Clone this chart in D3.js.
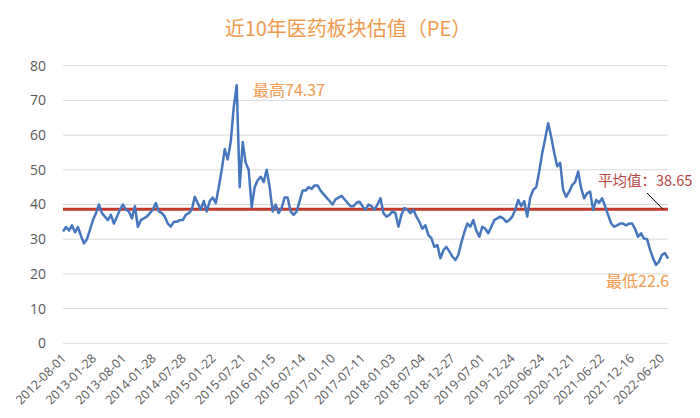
<!DOCTYPE html>
<html>
<head>
<meta charset="utf-8">
<script src="https://cdn.jsdelivr.net/npm/d3@7"></script>
<style>
  body { margin: 0; background: #fff; }
  #chart { width: 700px; height: 418px; }
</style>
</head>
<body>
<div id="chart"></div>
<script>
// tick labels on the x axis (one every 120 trading days)
var tickLabels = ["2012-08-01", "2013-01-28", "2013-08-01", "2014-01-28", "2014-07-28",
    "2015-01-22", "2015-07-21", "2016-01-15", "2016-07-14", "2017-01-10", "2017-07-11",
    "2018-01-03", "2018-07-04", "2018-12-27", "2019-07-01", "2019-12-24", "2020-06-24",
    "2020-12-21", "2021-06-22", "2021-12-16", "2022-06-20"];
var tickStep = 120;
var dayCount = 2430;

var peValues = [
    32.2, 33.5, 32.5, 34, 32, 33.5, 31, 28.8, 30, 32.7,
    35.5, 37.5, 40, 37.5, 36.5, 35.5, 37, 34.5, 36.5, 38.5,
    40, 38.5, 38, 36, 39.5, 33.6, 35.5, 36, 36.5, 37.5,
    38.5, 40.4, 38, 37.5, 36.5, 34.5, 33.6, 35, 35, 35.5,
    35.5, 37, 37.5, 38.5, 42.2, 40.4, 38.5, 41, 38, 41,
    42, 40.4, 45, 50, 56, 53, 58, 68, 74.37, 45,
    58, 52, 50, 39.2, 45, 47, 48, 46.5, 50, 45,
    38, 40, 37.5, 39, 42, 42, 38, 37, 38, 41,
    44, 44, 45, 44.5, 45.5, 45.5, 44, 43, 42, 41,
    40, 41.5, 42, 42.5, 41.5, 40.5, 39.5, 39.5, 40.5, 40.8,
    39.5, 38.5, 40, 39.5, 38.5, 40, 41.8, 37.5, 36.5, 37,
    38, 37.5, 33.6, 37, 39, 38.5, 37.5, 38.5, 36.5, 35,
    33, 34, 31.2, 30.3, 27.8, 28.3, 24.5, 26.8, 27.8, 26.5,
    25, 24, 25.5, 29, 32, 34.5, 33.6, 35.5, 32.5, 30.7,
    33.6, 33, 31.7, 33.6, 35.5, 36, 36.5, 36, 35, 35.5,
    36.5, 38.5, 41.3, 39.5, 41, 36.5, 42, 44.2, 45, 49.5,
    54.8, 59, 63.4, 59.5, 55, 51, 52, 44.2, 42.2, 43.7,
    45.6, 46.5, 49.5, 44.7, 41.8, 43.3, 43.7, 38.4, 41.3, 40.5,
    41.8, 39.5, 37, 34.6, 33.6, 34, 34.5, 34.5, 34, 34.5,
    34.5, 33, 30.7, 31.7, 30.2, 30, 27, 24.5, 22.6, 23.5,
    25.5, 26, 24.4
];
var yTicks = [0, 10, 20, 30, 40, 50, 60, 70, 80];
var avgValue = 38.65;
var maxValue = 74.37;
var minValue = 22.6;

var width = 700, height = 418;
var plotLeft = 63, plotRight = 668, plotTop = 65.7, plotBottom = 343.3;

var svg = d3.select("#chart").append("svg")
    .attr("width", width)
    .attr("height", height)
    .style("font-family", "'Noto Sans CJK SC', 'Liberation Sans', sans-serif");

var x = d3.scaleLinear().domain([0, dayCount - 1]).range([plotLeft, plotRight]);
var y = d3.scaleLinear().domain([0, 80]).range([plotBottom, plotTop]);
var sampleDay = function(i) { return i * (dayCount - 1) / (peValues.length - 1); };

// title
svg.append("text")
    .attr("x", 348)
    .attr("y", 36)
    .attr("text-anchor", "middle")
    .attr("font-size", "20px")
    .attr("fill", "#F19A4E")
    .text("近10年医药板块估值（PE）");

// grid
svg.append("g")
    .selectAll("line")
    .data(yTicks)
  .enter().append("line")
    .attr("x1", plotLeft)
    .attr("x2", plotRight)
    .attr("y1", function(d) { return y(d); })
    .attr("y2", function(d) { return y(d); })
    .attr("stroke", "#D9D9D9")
    .attr("stroke-width", 1);

// y axis labels
var yAxis = svg.append("g")
    .attr("transform", "translate(" + (plotLeft - 17) + ",0)")
    .call(d3.axisLeft(y).tickValues(yTicks).tickSize(0).tickPadding(0));
yAxis.select(".domain").remove();
yAxis.selectAll("text")
    .attr("font-size", "14px")
    .attr("fill", "#595959")
    .style("font-family", "'Open Sans', 'Liberation Sans', sans-serif");

// x axis labels
svg.append("g")
    .selectAll("text")
    .data(tickLabels)
  .enter().append("text")
    .attr("transform", function(d, i) {
        return "translate(" + (x(i * tickStep) - 2) + ",353) rotate(-45)";
    })
    .attr("text-anchor", "end")
    .attr("dy", "0.7em")
    .attr("font-size", "12.5px")
    .attr("fill", "#595959")
    .style("font-family", "'Open Sans', 'Liberation Sans', sans-serif")
    .text(function(d) { return d; });

// average line
svg.append("line")
    .attr("x1", plotLeft)
    .attr("x2", plotRight)
    .attr("y1", y(avgValue))
    .attr("y2", y(avgValue))
    .attr("stroke", "#C0392B")
    .attr("stroke-width", 3);

// PE line
var line = d3.line()
    .x(function(d, i) { return x(sampleDay(i)); })
    .y(function(d) { return y(d); });

svg.append("path")
    .datum(peValues)
    .attr("fill", "none")
    .attr("stroke", "#4677BE")
    .attr("stroke-width", 2.5)
    .attr("stroke-linejoin", "round")
    .attr("d", line);

// labels
svg.append("text")
    .attr("x", 253)
    .attr("y", 96)
    .attr("font-size", "16px")
    .attr("fill", "#F19A4E")
    .text("最高" + maxValue);

svg.append("text")
    .attr("x", 606)
    .attr("y", 287)
    .attr("font-size", "16px")
    .attr("fill", "#F19A4E")
    .text("最低" + minValue);

svg.append("line")
    .attr("x1", 647)
    .attr("y1", 193)
    .attr("x2", 663)
    .attr("y2", y(avgValue))
    .attr("stroke", "#000")
    .attr("stroke-width", 1);

svg.append("text")
    .attr("x", 598)
    .attr("y", 186)
    .attr("font-size", "14.5px")
    .attr("fill", "#B8453F")
    .text("平均值：" + avgValue);
</script>
</body>
</html>
